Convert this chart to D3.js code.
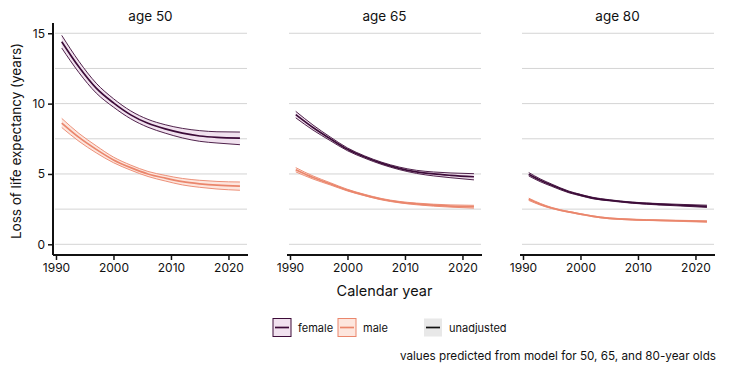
<!DOCTYPE html>
<html>
<head>
<meta charset="utf-8">
<script src="https://cdn.jsdelivr.net/npm/d3@7"></script>
<style>
  body { margin: 0; background: #fff; }
  svg text { font-family: Inter, "Noto Sans", sans-serif; fill: #111; }
</style>
</head>
<body>
<svg id="chart" width="746" height="373"></svg>
<script>
// years at which values were read, per panel
var years_early = [1991, 1994, 1997, 2000, 2003, 2006, 2009, 2012, 2015, 2018, 2022];
var years_80 = [1991, 1993, 1995, 1998, 2000, 2002, 2005, 2009, 2014, 2018, 2022];

// age 50
var female50 = [14.4, 12.6, 11.1, 10.05, 9.2, 8.6, 8.2, 7.9, 7.7, 7.6, 7.55];
var female50_hi = [14.85, 13.0, 11.45, 10.35, 9.48, 8.88, 8.5, 8.24, 8.08, 8.0, 7.98];
var female50_lo = [13.95, 12.2, 10.75, 9.75, 8.92, 8.32, 7.9, 7.56, 7.32, 7.2, 7.08];
var male50 = [8.62, 7.6, 6.75, 6.0, 5.45, 5.0, 4.7, 4.45, 4.3, 4.2, 4.14];
var male50_hi = [8.95, 7.88, 7.0, 6.2, 5.63, 5.18, 4.9, 4.68, 4.55, 4.47, 4.43];
var male50_lo = [8.3, 7.32, 6.5, 5.8, 5.27, 4.82, 4.5, 4.22, 4.05, 3.93, 3.84];

// age 65
var female65 = [9.22, 8.3, 7.5, 6.75, 6.2, 5.75, 5.4, 5.15, 5.0, 4.9, 4.8];
var female65_hi = [9.45, 8.48, 7.63, 6.85, 6.28, 5.83, 5.49, 5.26, 5.14, 5.07, 5.02];
var female65_lo = [8.99, 8.12, 7.37, 6.65, 6.12, 5.67, 5.31, 5.04, 4.86, 4.73, 4.58];
var male65 = [5.3, 4.75, 4.3, 3.85, 3.5, 3.2, 3.0, 2.87, 2.78, 2.72, 2.67];
var male65_hi = [5.45, 4.86, 4.38, 3.91, 3.55, 3.25, 3.05, 2.93, 2.85, 2.8, 2.77];
var male65_lo = [5.15, 4.64, 4.22, 3.79, 3.45, 3.15, 2.95, 2.81, 2.71, 2.64, 2.57];

// age 80
var female80 = [4.98, 4.55, 4.2, 3.72, 3.5, 3.3, 3.13, 2.96, 2.84, 2.77, 2.7];
var female80_hi = [5.1, 4.65, 4.28, 3.78, 3.55, 3.35, 3.17, 3.0, 2.89, 2.83, 2.78];
var female80_lo = [4.86, 4.45, 4.12, 3.66, 3.45, 3.25, 3.09, 2.92, 2.79, 2.71, 2.62];
var male80 = [3.2, 2.85, 2.58, 2.3, 2.15, 2.0, 1.85, 1.76, 1.7, 1.66, 1.62];
var male80_hi = [3.28, 2.91, 2.62, 2.33, 2.18, 2.03, 1.88, 1.79, 1.73, 1.7, 1.67];
var male80_lo = [3.12, 2.79, 2.54, 2.27, 2.12, 1.97, 1.82, 1.73, 1.67, 1.62, 1.57];

var panel_titles = ["age 50", "age 65", "age 80"];
var x_ticks = [1990, 2000, 2010, 2020];
var y_ticks = [0, 5, 10, 15];
var grid_vals = [0, 2.5, 5, 7.5, 10, 12.5, 15];
var sex_labels = ["female", "male"];

var colors = { female: "#3c0b38", male: "#ea866c" };
var fills = { female: "#f1e2ef", male: "#fde6de" };

var panels = [
    { title: panel_titles[0], years: years_early,
      female: [female50, female50_lo, female50_hi], male: [male50, male50_lo, male50_hi] },
    { title: panel_titles[1], years: years_early,
      female: [female65, female65_lo, female65_hi], male: [male65, male65_lo, male65_hi] },
    { title: panel_titles[2], years: years_80,
      female: [female80, female80_lo, female80_hi], male: [male80, male80_lo, male80_hi] }
];

var svg = d3.select("#chart");
var panel_left = [53, 287, 520];
var panel_w = 195;
var top_y = 23, bottom_y = 255;

var y = d3.scaleLinear().domain([-0.76, 15.73]).range([bottom_y, top_y]);

panels.forEach(function(p, i) {
    var x = d3.scaleLinear().domain([1989.48, 2023.4]).range([0, panel_w]);
    var g = svg.append("g").attr("transform", "translate(" + panel_left[i] + ",0)");

    g.selectAll(".grid").data(grid_vals).enter().append("line")
        .attr("x1", 2).attr("x2", panel_w - 1)
        .attr("y1", d => y(d)).attr("y2", d => y(d))
        .attr("stroke", "#d4d4d4").attr("stroke-width", 1);

    g.append("text").attr("x", panel_w / 2).attr("y", 21)
        .attr("text-anchor", "middle").style("font-size", "13.5px")
        .text(p.title);

    sex_labels.forEach(function(sex) {
        var rows = p.years.map((yr, k) => ({ yr: yr, c: p[sex][0][k], lo: p[sex][1][k], hi: p[sex][2][k] }));
        var area = d3.area().curve(d3.curveMonotoneX)
            .x(d => x(d.yr)).y0(d => y(d.lo)).y1(d => y(d.hi));
        g.append("path").datum(rows).attr("d", area).attr("fill", fills[sex]);
        ["lo", "hi"].forEach(function(k) {
            var ln = d3.line().curve(d3.curveMonotoneX).x(d => x(d.yr)).y(d => y(d[k]));
            g.append("path").datum(rows).attr("d", ln)
                .attr("fill", "none").attr("stroke", colors[sex]).attr("stroke-width", 0.9);
        });
        var line = d3.line().curve(d3.curveMonotoneX).x(d => x(d.yr)).y(d => y(d.c));
        g.append("path").datum(rows).attr("d", line)
            .attr("fill", "none").attr("stroke", colors[sex]).attr("stroke-width", 1.7);
    });

    var xa = g.append("g").attr("transform", "translate(0," + bottom_y + ")")
        .call(d3.axisBottom(x).tickValues(x_ticks).tickFormat(d3.format("d")).tickSize(5).tickPadding(3));
    xa.select(".domain").attr("stroke", "#111").attr("stroke-width", 2).attr("d", "M0,0H" + panel_w);
    xa.selectAll(".tick line").attr("stroke", "#111").attr("stroke-width", 1.5);
    xa.selectAll("text").style("font-size", "12px").attr("fill", "#111");

    if (i == 0) {
        var ya = g.append("g")
            .call(d3.axisLeft(y).tickValues(y_ticks).tickSize(5).tickPadding(3));
        ya.select(".domain").attr("stroke", "#111").attr("stroke-width", 2)
            .attr("d", "M0," + top_y + "V" + bottom_y);
        ya.selectAll(".tick line").attr("stroke", "#111").attr("stroke-width", 1.5);
        ya.selectAll("text").style("font-size", "12px").attr("fill", "#111");
    }
});

svg.append("text").attr("x", panel_left[1] + panel_w / 2).attr("y", 296)
    .attr("text-anchor", "middle").style("font-size", "14.5px").text("Calendar year");

svg.append("text").attr("transform", "translate(21,141) rotate(-90)")
    .attr("text-anchor", "middle").style("font-size", "13.5px")
    .text("Loss of life expectancy (years)");

// legend
var legend = svg.append("g").attr("transform", "translate(0,318)");
var leg_items = [
    { x: 273, label: "female", stroke: colors.female, fill: fills.female, border: colors.female },
    { x: 338, label: "male", stroke: colors.male, fill: fills.male, border: colors.male },
    { x: 424, label: "unadjusted", stroke: "#111", fill: "#e8e8e8", border: "none" }
];
leg_items.forEach(function(it) {
    legend.append("rect").attr("x", it.x).attr("y", 0.5).attr("width", 18).attr("height", 18)
        .attr("fill", it.fill).attr("stroke", it.border).attr("stroke-width", 1);
    legend.append("line").attr("x1", it.x + 2).attr("x2", it.x + 16)
        .attr("y1", 9.5).attr("y2", 9.5).attr("stroke", it.stroke).attr("stroke-width", 1.7);
    legend.append("text").attr("x", it.x + 25).attr("y", 13.5)
        .style("font-size", "11px").text(it.label);
});

svg.append("text").attr("x", 716).attr("y", 360).attr("text-anchor", "end")
    .style("font-size", "11.7px").text("values predicted from model for 50, 65, and 80-year olds");
</script>
</body>
</html>
